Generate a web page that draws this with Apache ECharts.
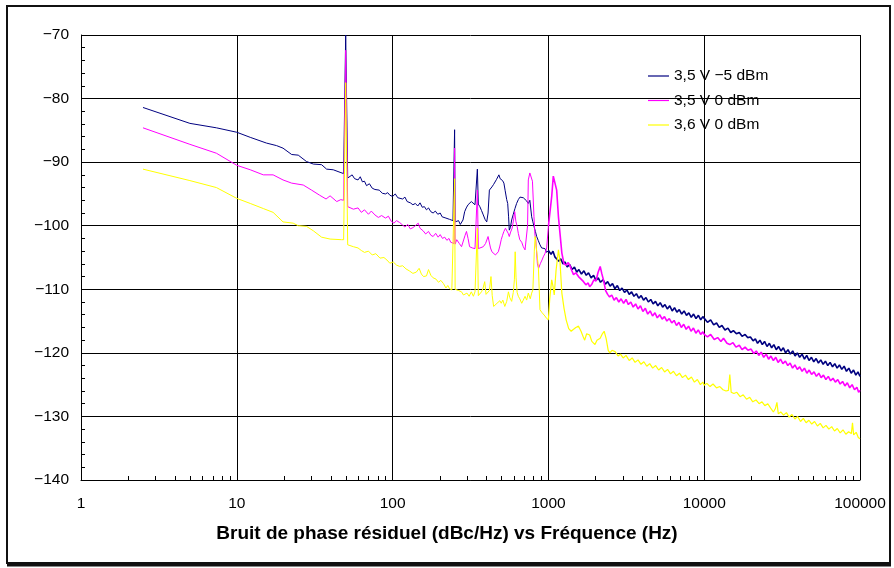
<!DOCTYPE html>
<html>
<head>
<meta charset="utf-8">
<script src="https://cdn.jsdelivr.net/npm/echarts@6/dist/echarts.min.js"></script>
<style>
html,body{margin:0;padding:0;background:#fff;}
#chart{width:894px;height:568px;}
</style>
</head>
<body>
<div id="chart"></div>
<script>
// ---- data (frequency Hz, phase noise dBc/Hz) ----
const seriesNames = ['3,5 V \u22125 dBm', '3,5 V 0 dBm', '3,6 V 0 dBm'];
const seriesColors = ['#000080', '#FF00FF', '#FFFF00'];
const xTicks = [1, 10, 100, 1000, 10000, 100000];
const yTicks = [-140, -130, -120, -110, -100, -90, -80, -70];
const chartTitle = 'Bruit de phase r\u00e9siduel (dBc/Hz) vs Fr\u00e9quence (Hz)';

const navyData = [
[2.5,-81.4],[5,-83.9],[7.4,-84.6],[10,-85.3],[12.2,-86.1],[15.5,-87.0],[18,-87.4],[19.8,-87.8],[22.5,-88.8],[24.8,-88.9],[28,-89.9],[31,-90.3],[35,-90.4],[37.7,-91.1],[41.6,-91.2],[46,-91.6],[48.5,-91.8],[50,-70],[51.5,-92.5],
[53,-92.4],[55,-92.0],[57,-92.6],[60,-92.8],[62,-92.3],[64,-93.1],[66,-93.0],[68,-93.7],[71,-93.4],[74,-94.1],[77,-94.3],[79,-94.6],[82,-94.4],[86,-94.9],[90,-95.0],[93,-94.8],[96,-95.2],[100,-95.4],[104,-95.0],[108,-95.6],[111,-95.5],[116,-95.8],[120,-95.5],[124,-96.2],[130,-96.4],[135,-96.7],[140,-96.5],[145,-96.9],[150,-96.4],[155,-97.1],[160,-97.0],[165,-97.5],[170,-97.2],[176,-97.8],[182,-98.0],[188,-97.7],[195,-98.2],[202,-98.0],[208,-98.6],[214,-98.3],[220,-98.8],[226,-98.6],[232,-99.0],[238,-98.7],[244,-99.2],[248,-99.3],[250,-84.9],[252,-99.4],
[258,-99.4],[265,-99.2],[272,-99.8],[277,-99.9],[283,-99.1],[290,-97.8],[297,-97.2],[305,-96.7],[312,-96.4],[320,-96.2],[328,-96.5],[338,-96.7],[345,-96.4],[350,-91.1],[355,-96.6],[363,-97.0],[372,-97.6],[382,-98.3],[392,-99.0],[402,-99.4],[410,-98.0],[418,-94.4],[425,-94.6],[434,-93.9],[445,-93.5],[457,-93.3],[465,-92.7],[472,-92.9],[481,-92.0],[490,-92.6],[498,-92.8],[508,-92.9],[518,-93.3],[528,-94.5],[540,-95.9],[548,-96.5],[555,-98.5],[561,-100.7],[570,-100.3],[581,-99.1],[595,-98.2],[610,-97.3],[625,-96.5],[641,-95.9],[657,-95.5],[674,-95.7],[690,-95.6],[708,-95.9],[725,-96.1],[743,-96.5],[760,-96.0],[781,-98.6],[795,-99.4],[808,-100.1],[825,-100.9],[841,-101.7],[860,-102.3],[883,-103.0],[905,-103.5],[927,-103.8],[950,-103.6],[975,-104.2],[1000,-103.9],
[1040,-104.5],[1070,-104.0],[1100,-104.9],[1130,-104.6],[1165,-105.6],[1200,-105.2],[1240,-106.0],[1280,-105.7],[1320,-106.5],[1370,-106.1],[1420,-106.9],[1470,-106.5],[1520,-107.3],[1570,-106.9],[1630,-107.6],[1690,-107.1],[1750,-107.8],[1810,-107.4],[1880,-108.2],[1950,-107.8],[2020,-108.6],[2090,-108.2],[2160,-108.9],[2240,-108.5],[2320,-109.2],[2400,-108.8],[2490,-109.5],[2580,-109.1],[2670,-109.9],[2770,-109.4],[2870,-110.2],[2970,-109.8],[3080,-110.5],[3190,-110.1],[3300,-110.8],[3420,-110.4],[3540,-111.1],[3670,-110.7],[3800,-111.4],[3940,-111.0],[4080,-111.7],[4230,-111.3],[4380,-112.0],[4540,-111.6],[4700,-112.3],[4870,-111.9],[5040,-112.6],[5220,-112.1],[5410,-112.8],[5600,-112.4],[5800,-113.1],[6010,-112.6],[6230,-113.4],[6450,-112.9],[6680,-113.6],[6920,-113.2],[7170,-113.9],[7430,-113.4],[7700,-114.1],[7970,-113.7],[8260,-114.4],[8550,-113.9],[8860,-114.6],[9180,-114.1],[9500,-114.8],[9800,-114.3],[10000,-114.6],
[10500,-115.2],[11000,-114.8],[11500,-115.6],[12000,-115.3],[12500,-116.0],[13000,-115.7],[13600,-116.4],[14200,-116.1],[14800,-116.8],[15400,-116.5],[16100,-117.0],[16800,-116.8],[17500,-117.4],[18300,-117.1],[19000,-117.6],[19800,-117.5],[20600,-118.1],
[21300,-117.8],[22000,-118.5],[22800,-118.0],[23600,-118.7],[24400,-118.2],[25300,-119.0],[26200,-118.5],[27100,-119.2],[28000,-118.7],[29000,-119.5],[30000,-119.0],[31100,-119.7],[32200,-119.2],[33300,-120.0],[34500,-119.5],[35700,-120.2],[37000,-119.7],[38300,-120.5],[39600,-120.0],[41000,-120.7],[42500,-120.2],[44000,-121.0],[45500,-120.4],[47100,-121.2],[48800,-120.7],[50500,-121.4],[52300,-120.9],[54100,-121.6],[56000,-121.1],[58000,-121.8],[60000,-121.3],[62100,-122.0],[64300,-121.5],[66600,-122.2],[68900,-121.7],[71300,-122.4],[73800,-121.9],[76400,-122.6],[79100,-122.1],[81900,-122.9],[84800,-122.4],[87800,-123.2],[90900,-122.7],[94000,-123.5],[97000,-123.0],[100000,-123.7]
];

const magentaData = [
[2.5,-84.6],[5,-87.2],[7.4,-88.6],[10,-90.5],[12.2,-91.2],[14.8,-92.0],[17.1,-92.0],[19.8,-92.8],[22.5,-93.3],[26.7,-93.6],[30.2,-94.4],[34,-95.2],[37.4,-95.8],[39.7,-95.3],[43.8,-96.2],[46.5,-95.9],[48.5,-96.0],[50,-72.4],[51.5,-97.0],
[53,-96.9],[56,-97.4],[60,-97.2],[63,-97.9],[66,-97.5],[70,-98.2],[73,-97.7],[77,-98.3],[81,-98.7],[85,-98.4],[90,-98.8],[94,-98.5],[98,-99.3],[102,-99.6],[106,-99.2],[111,-99.5],[116,-99.9],[120,-100.2],[125,-99.8],[130,-100.5],[135,-100.3],[140,-100.0],[146,-99.6],[150,-100.4],[157,-100.8],[163,-101.3],[170,-100.9],[176,-101.5],[182,-101.7],[189,-101.2],[196,-101.8],[202,-101.4],[209,-102.0],[216,-101.8],[223,-102.3],[230,-102.0],[236,-102.6],[242,-102.5],[248,-102.8],[250,-87.8],[252,-102.9],
[258,-102.2],[268,-102.8],[277,-103.3],[285,-103.5],[292,-101.5],[298,-100.9],[305,-102.0],[312,-103.3],[325,-103.5],[338,-103.6],[345,-103.4],[350,-94.4],[355,-103.6],[363,-103.8],[382,-103.3],[395,-102.8],[410,-101.7],[418,-102.0],[425,-103.5],[434,-104.1],[445,-104.4],[457,-104.6],[468,-104.3],[477,-104.1],[488,-103.2],[498,-102.2],[508,-101.5],[518,-100.9],[530,-100.4],[540,-100.1],[552,-101.2],[561,-101.7],[572,-101.0],[585,-100.4],[600,-98.8],[608,-97.8],[618,-99.3],[630,-100.1],[641,-101.2],[655,-102.2],[674,-102.6],[690,-103.3],[708,-103.8],[725,-103.6],[735,-100.0],[743,-92.8],[760,-91.7],[775,-92.0],[790,-93.0],[808,-98.6],[820,-101.5],[830,-102.2],[850,-106.0],[865,-106.7],[890,-105.9],[910,-105.4],[927,-104.9],[950,-104.4],[975,-103.5],[1000,-100.1],[1050,-95.4],[1075,-92.2],[1090,-92.5],[1130,-94.4],[1160,-98.6],[1220,-104.3],[1260,-106.0],[1300,-106.2],
[1340,-105.8],[1370,-106.2],[1410,-107.0],[1450,-107.7],[1500,-107.4],[1560,-108.0],[1620,-108.4],[1680,-108.8],[1740,-109.3],[1800,-109.0],[1840,-109.6],[1900,-109.2],[1960,-108.5],[2020,-108.7],[2080,-107.4],[2150,-106.4],[2200,-107.5],[2260,-108.6],[2330,-110.2],[2400,-110.8],[2470,-111.2],
[2550,-110.9],[2640,-111.7],[2730,-111.3],[2830,-112.0],[2930,-111.5],[3040,-112.2],[3150,-111.6],[3260,-112.4],[3380,-112.0],[3500,-112.8],[3630,-112.3],[3760,-113.1],[3900,-112.6],[4040,-113.5],[4190,-113.0],[4340,-113.9],[4500,-113.4],[4660,-114.2],[4830,-113.7],[5000,-114.5],[5180,-114.0],[5370,-114.7],[5560,-114.3],[5760,-115.0],[5970,-114.6],[6190,-115.3],[6410,-114.9],[6640,-115.7],[6880,-115.2],[7130,-116.0],[7390,-115.5],[7660,-116.3],[7940,-115.8],[8230,-116.6],[8530,-116.1],[8840,-116.9],[9160,-116.4],[9490,-117.1],[9800,-116.7],[10000,-117.1],
[10500,-117.5],[11000,-117.1],[11600,-117.9],[12200,-117.6],[12800,-118.2],[13300,-117.7],[14000,-118.5],[14600,-118.7],[15300,-118.4],[16000,-119.1],[16800,-118.8],[17500,-119.5],[18300,-119.1],[19100,-119.6],[20000,-119.4],[20800,-120.1],
[21600,-119.7],[22400,-120.4],[23200,-119.9],[24100,-120.7],[25000,-120.2],[25900,-121.0],[26800,-120.5],[27800,-121.2],[28800,-120.7],[29800,-121.5],[30900,-121.0],[32000,-121.7],[33200,-121.3],[34400,-122.0],[35600,-121.6],[36900,-122.4],[38200,-121.9],[39600,-122.6],[41000,-122.2],[42500,-122.9],[44000,-122.4],[45600,-123.2],[47200,-122.7],[48900,-123.4],[50700,-123.0],[52500,-123.7],[54400,-123.2],[56300,-123.9],[58300,-123.5],[60400,-124.2],[62600,-123.7],[64800,-124.4],[67100,-124.0],[69500,-124.6],[72000,-124.2],[74600,-124.9],[77300,-124.5],[80000,-125.2],[82900,-124.7],[85900,-125.5],[89000,-125.0],[92200,-125.8],[95500,-125.4],[98000,-126.2],[100000,-125.9]
];

const yellowData = [
[2.5,-91.1],[5,-92.9],[7.4,-94.0],[10,-95.7],[12.2,-96.5],[14.8,-97.3],[17.1,-97.9],[19.8,-99.4],[23,-99.6],[24.8,-100.0],[28,-100.1],[31,-100.8],[35,-101.8],[39.7,-102.1],[47,-102.2],[48.5,-102.2],[50,-77.5],[51.5,-103.0],
[53,-103.0],[56,-103.3],[60,-103.5],[63,-103.9],[66,-104.2],[70,-104.0],[74,-104.6],[78,-104.4],[83,-105.1],[88,-105.0],[92,-105.4],[96,-105.9],[101,-105.7],[106,-106.2],[111,-106.4],[116,-106.3],[122,-106.8],[128,-107.1],[135,-107.5],[142,-107.3],[148,-106.7],[153,-107.6],[158,-108.0],[165,-107.9],[170,-106.9],[176,-107.8],[182,-108.2],[190,-108.4],[197,-108.9],[204,-108.6],[212,-109.1],[220,-109.8],[226,-109.4],[232,-109.9],[240,-110.1],[246,-109.8],[250,-92.6],[252,-110.0],
[258,-109.8],[265,-110.2],[272,-110.0],[277,-110.4],[285,-110.9],[292,-110.6],[300,-110.6],[310,-111.1],[320,-110.4],[330,-111.1],[338,-110.4],[345,-110.7],[350,-100.4],[355,-111.0],[363,-111.1],[372,-110.4],[380,-109.9],[390,-108.8],[398,-110.8],[408,-111.1],[418,-110.2],[428,-108.0],[436,-111.0],[445,-112.7],[457,-112.4],[468,-112.2],[477,-112.5],[488,-111.8],[498,-112.2],[510,-111.7],[525,-112.7],[540,-111.9],[554,-110.4],[565,-111.3],[581,-111.9],[595,-110.5],[605,-108.5],[612,-104.1],[620,-108.2],[630,-110.5],[641,-111.1],[655,-111.5],[674,-112.2],[690,-111.7],[708,-111.1],[725,-111.7],[743,-110.6],[765,-111.5],[781,-110.6],[795,-110.1],[812,-104.0],[822,-101.7],[841,-101.4],[862,-106.4],[883,-113.2],[905,-113.6],[927,-113.8],[950,-114.2],[975,-114.6],[1000,-114.8],[1020,-111.5],[1050,-108.5],[1070,-109.5],[1090,-110.9],[1120,-107.0],[1160,-103.8],[1185,-105.4],[1220,-110.6],[1260,-113.0],[1300,-114.8],[1350,-116.2],[1400,-116.6],[1450,-116.3],[1500,-116.0],[1560,-115.8],[1620,-116.6],[1680,-117.6],[1710,-118.0],[1760,-117.0],[1840,-117.2],[1900,-118.2],[1990,-118.7],[2050,-118.0],[2150,-117.7],[2220,-117.0],[2280,-116.6],[2350,-117.8],[2420,-119.6],[2480,-120.0],[2560,-119.6],[2680,-119.8],[2800,-120.5],[2900,-120.2],[3020,-120.8],
[3150,-120.4],[3300,-121.2],[3450,-120.8],[3600,-121.5],[3760,-121.1],[3930,-121.8],[4100,-121.4],[4280,-122.1],[4470,-121.7],[4670,-122.4],[4880,-122.0],[5100,-122.7],[5330,-122.3],[5570,-123.0],[5820,-122.6],[6080,-123.3],[6350,-122.9],[6640,-123.6],[6940,-123.2],[7250,-123.9],[7580,-123.5],[7920,-124.2],[8280,-123.8],[8650,-124.6],[9040,-124.2],[9450,-125.0],[9800,-124.6],[10000,-125.1],
[10400,-124.8],[10900,-125.3],[11400,-124.9],[12000,-125.5],[12600,-125.3],[13200,-125.8],[13800,-126.0],[14300,-125.9],[14600,-123.4],[14900,-126.2],[15500,-126.4],[16200,-126.2],[17000,-126.9],[17800,-126.6],[18700,-127.3],[19600,-127.0],[20500,-127.7],[21500,-127.4],[22500,-128.0],[23500,-127.7],[24500,-128.3],[25600,-128.0],[26700,-128.7],[27800,-129.3],[28600,-128.8],[29300,-127.8],[29900,-129.6],[31000,-129.3],[32300,-129.8],[33700,-129.4],[35100,-130.1],[36600,-129.7],[38200,-130.4],[39800,-130.0],[41500,-130.8],[43300,-130.3],[45100,-131.0],[47000,-130.6],[49000,-131.2],[51100,-130.8],[53300,-131.5],[55600,-131.1],[58000,-131.8],[60500,-131.4],[63100,-132.0],[65800,-131.6],[68600,-132.3],[71500,-131.9],[74600,-132.6],[77800,-132.1],[81100,-132.8],[84500,-132.4],[88000,-132.7],[89500,-131.0],[91000,-132.9],[94500,-132.5],[97500,-133.3],[100000,-133.5]
];

// ---- chart ----
const FONT = '"Liberation Sans", Arial, Helvetica, sans-serif';
const chart = echarts.init(document.getElementById('chart'), null, {renderer: 'canvas'});
const allData = [navyData, magentaData, yellowData];
// line widths: thin for the sparse low-frequency sweep, thicker where the analyser data is dense
const lowWidth = [1, 1, 1];
const highWidth = [1.6, 1.6, 1.2];
const splitFreq = 1000;

const series = [];
allData.forEach((d, i) => {
  series.push({
    name: seriesNames[i], type: 'line', symbol: 'none', showSymbol: false, clip: true,
    color: seriesColors[i], lineStyle: {color: seriesColors[i], width: lowWidth[i]},
    data: d.filter(p => p[0] <= splitFreq)
  });
  series.push({
    name: seriesNames[i], type: 'line', symbol: 'none', showSymbol: false, clip: true,
    color: seriesColors[i], lineStyle: {color: seriesColors[i], width: highWidth[i]},
    data: d.filter(p => p[0] >= splitFreq)
  });
});

const option = {
  animation: false,
  backgroundColor: '#ffffff',
  textStyle: {fontFamily: FONT, color: '#000'},
  title: {
    text: chartTitle,
    left: 'center',
    top: 519,
    textStyle: {fontFamily: FONT, fontSize: 19, fontWeight: 'bold', color: '#000'}
  },
  legend: {
    show: true,
    orient: 'vertical',
    left: 643,
    top: 63,
    padding: 5,
    icon: 'rect',
    itemWidth: 21,
    itemHeight: 1.2,
    itemGap: 8.5,
    data: seriesNames,
    textStyle: {fontFamily: FONT, fontSize: 15.5, color: '#000'}
  },
  grid: {left: 81, right: 34, top: 35, bottom: 88, containLabel: false},
  xAxis: {
    type: 'log',
    logBase: 10,
    min: xTicks[0],
    max: xTicks[xTicks.length - 1],
    axisLine: {show: true, lineStyle: {color: '#000', width: 1}},
    axisTick: {show: false},
    minorTick: {show: false},
    splitLine: {show: true, lineStyle: {color: '#000', width: 1}},
    axisLabel: {
      margin: 16,
      fontFamily: FONT, fontSize: 15.5, color: '#000',
      formatter: v => String(Math.round(v))
    }
  },
  yAxis: {
    type: 'value',
    min: yTicks[0],
    max: yTicks[yTicks.length - 1],
    interval: 10,
    axisLine: {show: true, lineStyle: {color: '#000', width: 1}},
    axisTick: {show: true, inside: true, length: 4, lineStyle: {color: '#000'}},
    minorTick: {show: true, splitNumber: 5, length: 4, lineStyle: {color: '#000'}},
    splitLine: {show: true, lineStyle: {color: '#000', width: 1}},
    axisLabel: {
      margin: 12,
      fontFamily: FONT, fontSize: 15.5, color: '#000',
      formatter: v => (v < 0 ? '\u2212' : '') + Math.abs(v)
    }
  },
  series: series
};
chart.setOption(option);

// minor ticks of the log axis (2..9 in each decade), placed through the axis scale
const graphics = [];
const yBottom = chart.convertToPixel({yAxisIndex: 0}, yTicks[0]);
for (let d = 0; d < xTicks.length - 1; d++) {
  for (let k = 2; k <= 9; k++) {
    const px = chart.convertToPixel({xAxisIndex: 0}, k * xTicks[d]);
    graphics.push({
      type: 'line', silent: true,
      shape: {x1: Math.round(px) + 0.5, y1: yBottom, x2: Math.round(px) + 0.5, y2: yBottom - 4},
      style: {stroke: '#000', lineWidth: 1}
    });
  }
}
// outer frame
graphics.push({
  type: 'rect', silent: true,
  shape: {x: 7, y: 6, width: 883, height: 557},
  style: {fill: null, stroke: '#111', lineWidth: 2}
});
graphics.push({
  type: 'line', silent: true,
  shape: {x1: 7, y1: 565, x2: 891, y2: 565},
  style: {stroke: '#111', lineWidth: 3}
});
chart.setOption({graphic: graphics});
</script>
</body>
</html>
